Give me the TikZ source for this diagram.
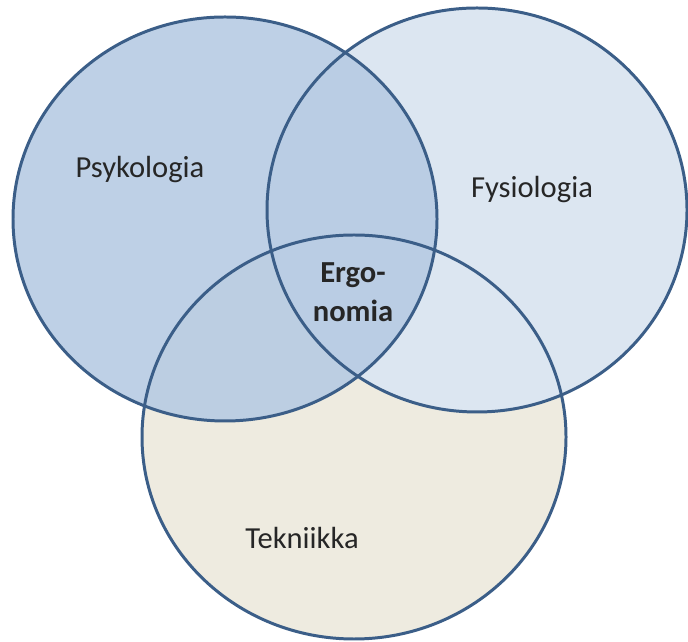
\documentclass[tikz,border=0pt]{standalone}
\usepackage{fontspec}
\setmainfont{Carlito}
\definecolor{vennline}{HTML}{3B5E88}
\definecolor{psyfill}{HTML}{B7CBE3}
\definecolor{fysfill}{HTML}{DCE6F1}
\definecolor{tekfill}{HTML}{EEEBE0}
\tikzset{
  vennedge/.style={draw=vennline, line width=1.7pt},
  lbl/.style={font=\fontsize{17.4}{22}\selectfont, text=black!85, align=center}
}

\begin{document}
\begin{tikzpicture}[x=0.02cm,y=0.02cm]
\def\rradiuX{212}
\def\rradiuY{202}
\useasboundingbox (0,0) rectangle (688,641);
\coordinate (psy) at (225,422);
\coordinate (fys) at (477,431);
\coordinate (tek) at (354,204);
%\draw[red] (psy) -- (fys) -- (tek) -- cycle;
\fill[tekfill] (tek) ellipse ({\rradiuX} and {\rradiuY});
\fill[fysfill] (fys) ellipse ({\rradiuX-2} and {\rradiuY});
\fill[psyfill, fill opacity=0.9] (psy) ellipse ({\rradiuX} and {\rradiuY});
\draw[vennedge] (tek) ellipse ({\rradiuX} and {\rradiuY});
\draw[vennedge] (fys) ellipse ({\rradiuX-2} and {\rradiuY});
\draw[vennedge] (psy) ellipse ({\rradiuX} and {\rradiuY});
\node[lbl] (psyl) at (140,471) {Psykologia};
\node[lbl] (fysl) at (532,451) {Fysiologia};
\node[lbl] (tekl) at (302,103) {Tekniikka};
\node[lbl, font=\fontsize{17.4}{22}\selectfont\bfseries] (ergo) at (353,349) {Ergo-\\nomia};
\end{tikzpicture}
\end{document}
